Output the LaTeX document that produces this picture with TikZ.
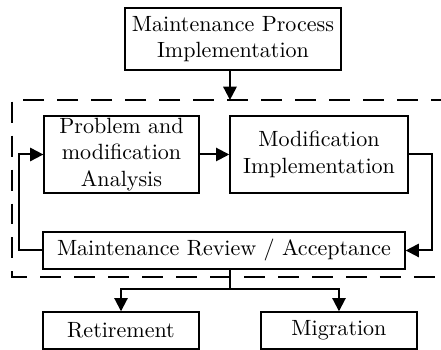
\documentclass[tikz,border=0pt]{standalone}
\usepackage{amsmath}
\usepackage{tikz}
\usetikzlibrary{arrows.meta}

\begin{document}
\begin{tikzpicture}[
		box/.style={draw, line width=0.6pt, align=center, inner sep=1pt},
		flow/.style={line width=0.9pt, -{Triangle[length=6pt,width=6pt]}},
		frame/.style={line width=0.9pt, dash pattern=on 9.5pt off 5.9pt}
	]
		\useasboundingbox (0,0) rectangle (7.03,5.579);
		
		% boxes
		\node[box, minimum width=3.44cm, minimum height=0.99cm] (impl) at (3.714,4.957) {Maintenance Process\\Implementation};
		\node[box, minimum width=2.47cm, minimum height=1.23cm] (analysis) at (1.937,3.116) {Problem and\\modification\\Analysis};
		\node[box, minimum width=2.84cm, minimum height=1.23cm] (modif) at (5.085,3.116) {Modification\\Implementation};
		\node[box, minimum width=5.77cm, minimum height=0.59cm] (review) at (3.571,1.586) {Maintenance Review / Acceptance};
		\node[box, minimum width=2.49cm, minimum height=0.59cm] (retire) at (1.929,0.311) {Retirement};
		\node[box, minimum width=2.49cm, minimum height=0.59cm] (migr) at (5.404,0.311) {Migration};
		
		% dashed frame
		\draw[frame] (7.2,3.985) -- (0.191,3.985) -- (0.191,1.164) -- (7.2,1.164);
		
		% points on the frame and the split
		\coordinate (ftop) at (3.666,3.985);
		\coordinate (split) at (3.666,0.972);
		
		% arrows
		\draw[flow] (impl.south -| ftop) -- (ftop);
		\draw[flow] (analysis) -- (modif);
		\draw[flow] (modif.east) -- ++(0.37,0) |- (review.east);
		\draw[flow] (review.west) -- ++(-0.37,0) |- (analysis.west);
		
		% split to retirement / migration
		\draw[line width=0.9pt] (review.south -| split) -- (split);
		\draw[flow] (split) -| (retire.north);
		\draw[flow] (split) -| (migr.north);
	\end{tikzpicture}
\end{document}
